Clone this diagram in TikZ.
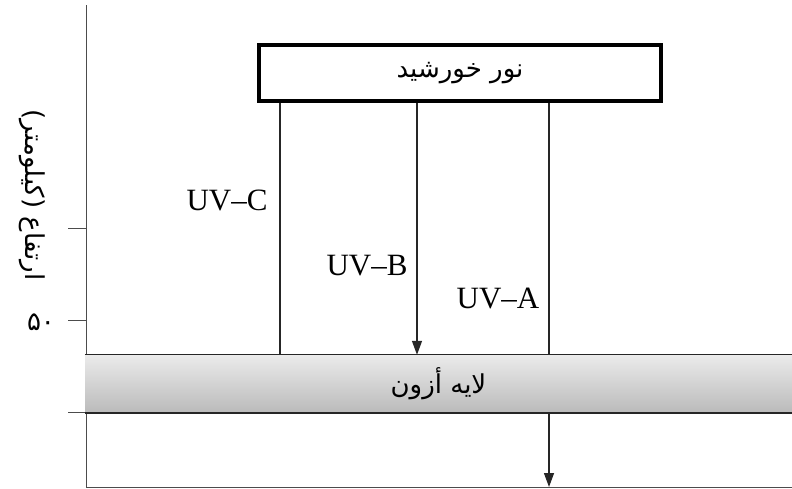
\documentclass[tikz,border=0pt]{standalone}
\usepackage{fontspec}
\setmainfont{Liberation Serif}
\newfontfamily\arabicfont[Script=Arabic]{DejaVu Sans}
\TeXXeTstate=1
\usepackage{tikz}
\usetikzlibrary{arrows.meta,positioning}

\begin{document}
\begin{tikzpicture}[x=1pt, y=-1pt,
  axis/.style={draw=black!70, line width=1pt},
  ray/.style={draw=black!85, line width=1.3pt},
  rayarrow/.style={ray, -{Triangle[length=14pt,width=10pt]}},
  fa/.style={font=\arabicfont\fontsize{26}{30}\selectfont},
  uv/.style={font=\fontsize{31}{36}\selectfont, anchor=base, inner sep=0pt}]
\useasboundingbox (0,0) rectangle (792,488);
% axes
\coordinate (ytop) at (86,5);
\coordinate (o) at (86,487);
\coordinate (xend) at (792,487);
\draw[axis] (ytop) -- (o) -- (xend);
\foreach \y in {228,320,412} \draw[axis] (68,\y) -- (86,\y);
\node[fa, rotate=-90] (ylab) at (32,195) {\beginR ارتفاع (کیلومتر)\endR};
\node[fa] (fifty) at (41,322) {۵۰};
% sunlight
\node[draw, line width=4pt, fill=white, minimum width=402pt, minimum height=56pt, fa] (sun) at (460,73) {\beginR نور خورشید\endR};
\coordinate (xc) at (280,0);
\coordinate (xb) at (417,0);
\coordinate (xa) at (549,0);
\draw[rayarrow] (sun.south -| xa) -- (o -| xa);
% ozone layer
\node[minimum width=707pt, minimum height=58pt, top color=black!8, bottom color=black!27, fa] (ozone) at (438.5,384) {\beginR لایه أزون\endR};
\draw[black!85, line width=1.3pt] (ozone.north west) -- (ozone.north east);
\draw[black!85, line width=1.6pt] (ozone.south west) -- (ozone.south east);
\draw[ray] (sun.south -| xc) -- (ozone.north -| xc);
\draw[rayarrow] (sun.south -| xb) -- (ozone.north -| xb);
% labels
\node[uv] (lc) at (227,210) {UV–C};
\node[uv] (lb) at (367,275) {UV–B};
\node[uv] (la) at (498,308) {UV–A};
\end{tikzpicture}
\end{document}
